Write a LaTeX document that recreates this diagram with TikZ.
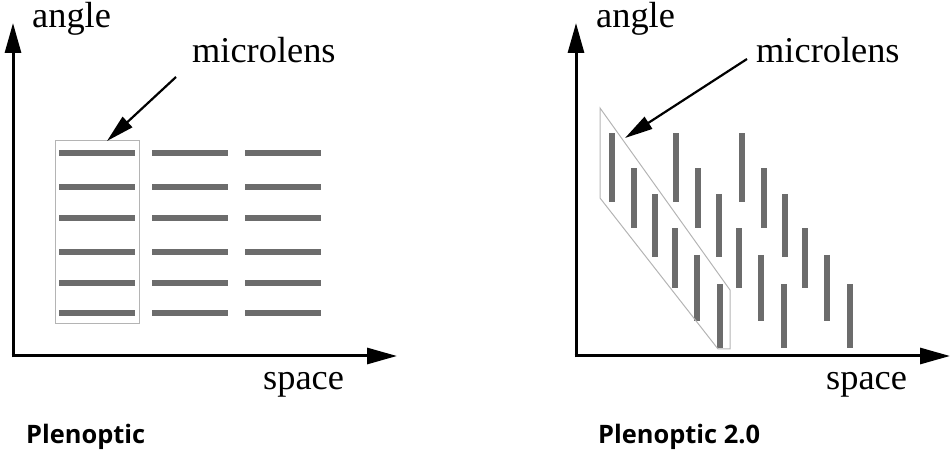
\documentclass[tikz,border=0pt]{standalone}
\usepackage{fontspec}
\setmainfont{Liberation Serif}
\newfontfamily\capfont{Open Sans}
\usetikzlibrary{arrows.meta}
\definecolor{bargray}{HTML}{6C6C6C}
\definecolor{boxgray}{HTML}{B4B4B4}
\begin{document}
\begin{tikzpicture}[x=1bp,y=-1bp,
  axisline/.style={line width=3bp,-{Triangle[length=30bp,width=16bp]}},
  pointer/.style={line width=2.2bp,-{Triangle[length=28bp,width=14bp]}},
  hbar/.style={draw=bargray,line width=5.5bp},
  vbar/.style={draw=bargray,line width=6bp},
  lensbox/.style={draw=boxgray,line width=1bp},
  serif/.style={font=\fontsize{36.5}{40}\selectfont,inner sep=0,anchor=base west},
  caption/.style={font=\capfont\bfseries\fontsize{25.5}{28}\selectfont,inner sep=0,anchor=base west}]
\path[use as bounding box] (0,0) rectangle (951,454);
% ---------------- left panel ----------------
\coordinate (O1) at (13,357.5);
\coordinate (Y1) at (13,23);
\coordinate (X1) at (397,356);
\draw[axisline] (O1) -- (Y1);
\draw[axisline] (11.5,356) -- (X1);
\node[serif] (angL) at (32,28) {angle};
\node[serif] (micL) at (192,63) {microlens};
\node[serif] (spcL) at (263,389) {space};
\node[caption] (capL) at (26,443) {Plenoptic};
\foreach \x in {59,152,245}
  \foreach \y in {153,187,218,252,283,313}
    \draw[hbar] (\x,\y) -- ++(76,0);
\draw[lensbox] (55,141) rectangle (139,324);
\coordinate (boxtopL) at (107,141);
\coordinate (ptrL) at (176,77);
\draw[pointer] (ptrL) -- (boxtopL);
% ---------------- right panel ----------------
\coordinate (O2) at (576,357.5);
\coordinate (Y2) at (576,23);
\coordinate (X2) at (950,356);
\draw[axisline] (O2) -- (Y2);
\draw[axisline] (574.5,356) -- (X2);
\node[serif] (angR) at (596,28) {angle};
\node[serif] (micR) at (756,63) {microlens};
\node[serif] (spcR) at (826,389) {space};
\node[caption] (capR) at (598,443) {Plenoptic 2.0};
\foreach \gx in {612,676,742}
  \foreach \dx/\yt/\yb in {0/133.5/202.5,21.5/168.5/228,42.5/194/257,63/228.5/288,85/255/321,108/284/348}
    \draw[vbar] (\gx+\dx,\yt) -- (\gx+\dx,\yb);
\draw[lensbox] (600,108) -- (600,198) -- (718,349) -- (730,349) -- (730,290) -- cycle;
\coordinate (boxtopR) at (625,138);
\coordinate (ptrR) at (747,59);
\draw[pointer] (ptrR) -- (boxtopR);
\end{tikzpicture}
\end{document}
